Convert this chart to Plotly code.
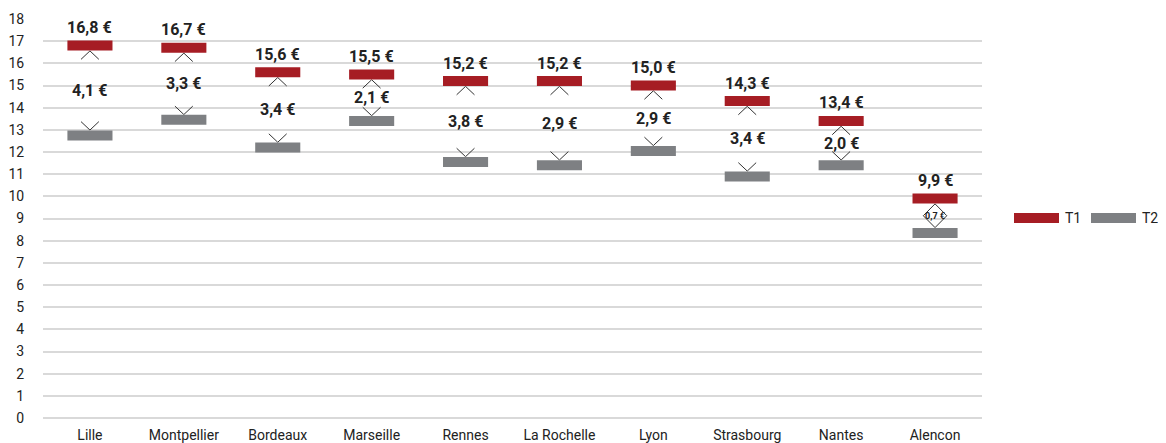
import plotly.graph_objects as go

cities = ["Lille", "Montpellier", "Bordeaux", "Marseille", "Rennes",
          "La Rochelle", "Lyon", "Strasbourg", "Nantes", "Alencon"]
t1 = [16.8, 16.7, 15.6, 15.5, 15.2, 15.2, 15.0, 14.3, 13.4, 9.9]
t2 = [12.75, 13.45, 12.2, 13.4, 11.55, 11.4, 12.05, 10.9, 11.4, 8.35]
t1_labels = ["16,8 €", "16,7 €", "15,6 €", "15,5 €", "15,2 €",
             "15,2 €", "15,0 €", "14,3 €", "13,4 €", "9,9 €"]
diff_labels = ["4,1 €", "3,3 €", "3,4 €", "2,1 €", "3,8 €",
               "2,9 €", "2,9 €", "3,4 €", "2,0 €", "0,7 €"]
diff_values = [4.1, 3.3, 3.4, 2.1, 3.8, 2.9, 2.9, 3.4, 2.0, 0.7]
series_names = ["T1", "T2"]
yticks = list(range(0, 19))

RED = "#a61d24"
GRAY = "#7e8083"
TXT = "#222222"
FONT = "Roboto"

n = len(cities)
xs = list(range(n))
BAR_HALF_W = 0.24      # half bar width (category units)
BAR_HALF_T = 0.24      # half bar thickness (data units)
CH_W = 0.095           # chevron half width
CH_H = 0.38            # chevron height
CH_W_SMALL = 0.125     # chevron half width when the gap is small (diamond)


def seg_trace(vals, color, name):
    x, y = [], []
    for i, v in zip(xs, vals):
        x += [i - BAR_HALF_W, i + BAR_HALF_W, None]
        y += [v, v, None]
    return go.Scatter(x=x, y=y, mode="lines", name=name, showlegend=False,
                      line=dict(color=color, width=10),
                      hoverinfo="skip")


def chevrons(up):
    x, y = [], []
    for i, a, b, d in zip(xs, t1, t2, diff_values):
        if d < 1:
            h = ((a - b) - 2 * BAR_HALF_T) / 2
            w = CH_W_SMALL
        else:
            h, w = CH_H, CH_W
        if up:
            tip = a - BAR_HALF_T
            end = tip - h
        else:
            tip = b + BAR_HALF_T
            end = tip + h
        x += [i - w, i, i + w, None]
        y += [end, tip, end, None]
    return go.Scatter(x=x, y=y, mode="lines", showlegend=False,
                      line=dict(color="#333333", width=1),
                      hoverinfo="skip")


fig = go.Figure()
fig.add_trace(chevrons(True))
fig.add_trace(chevrons(False))
fig.add_trace(seg_trace(t1, RED, series_names[0]))
fig.add_trace(seg_trace(t2, GRAY, series_names[1]))

for i, v, lab in zip(xs, t1, t1_labels):
    fig.add_annotation(x=i, y=v, text=lab, showarrow=False, yshift=18,
                       font=dict(family=FONT, size=16, color=TXT, weight="bold"))

for i, a, b, lab, d in zip(xs, t1, t2, diff_labels, diff_values):
    fig.add_annotation(x=i, y=(a + b) / 2, text=lab, showarrow=False,
                       font=dict(family=FONT, size=16 if d >= 1 else 9,
                                 color=TXT, weight="bold"))

# page body has an 8px margin: figure coordinates are shifted accordingly
OFF = 8
PLOT_L, PLOT_R, PLOT_T, PLOT_B = 43 - OFF, 982 - OFF, 19 - OFF, 418 - OFF
W = PLOT_R - PLOT_L
H = PLOT_B - PLOT_T

# manual legend (long swatches like the reference)
leg_y = (PLOT_B - (218 - OFF)) / H
leg_items = [(series_names[0], RED, 1014 - OFF), (series_names[1], GRAY, 1091 - OFF)]
for name, col, px in leg_items:
    fig.add_shape(type="rect", xref="paper", yref="paper",
                  x0=(px - PLOT_L) / W, x1=(px + 45 - PLOT_L) / W,
                  y0=leg_y - 5 / H, y1=leg_y + 5 / H,
                  fillcolor=col, line=dict(width=0))
    fig.add_annotation(xref="paper", yref="paper",
                       x=(px + 49 - PLOT_L) / W, y=leg_y,
                       xanchor="left", yanchor="middle", text=name,
                       showarrow=False,
                       font=dict(family=FONT, size=14, color=TXT))

fig.update_layout(
    width=1166, height=443,
    margin=dict(l=PLOT_L, r=1166 - PLOT_R, t=PLOT_T, b=443 - PLOT_B),
    paper_bgcolor="white", plot_bgcolor="white",
    font=dict(family=FONT, size=14, color=TXT),
    showlegend=False,
)
fig.update_xaxes(range=[-0.5, n - 0.5], tickmode="array", tickvals=xs,
                 ticktext=cities, showgrid=False, zeroline=False, showline=False,
                 automargin=False,
                 ticks="outside", ticklen=4, tickcolor="rgba(0,0,0,0)",
                 tickfont=dict(family=FONT, size=14, color=TXT))
fig.update_yaxes(range=[0, 18], tickmode="array", tickvals=yticks,
                 showgrid=True, gridcolor="#d9d9d9", gridwidth=1.5,
                 zeroline=True, zerolinecolor="#d9d9d9", zerolinewidth=1.5,
                 showline=False, automargin=False,
                 ticks="outside", ticklen=15,
                 tickcolor="rgba(0,0,0,0)",
                 tickfont=dict(family=FONT, size=14, color=TXT))

fig.write_html("out.html")
